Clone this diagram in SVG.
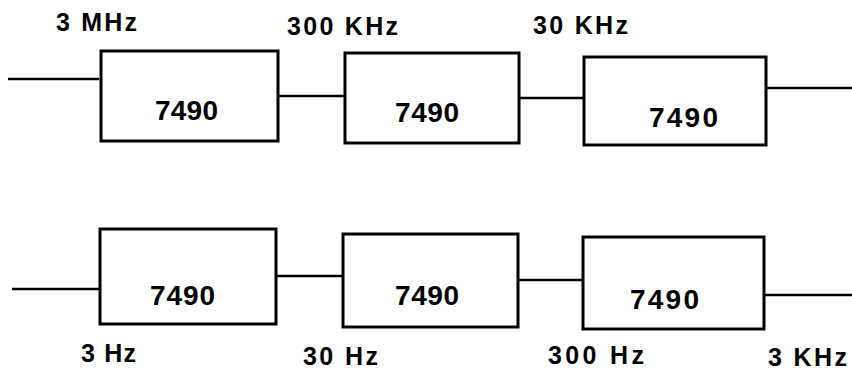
<svg xmlns="http://www.w3.org/2000/svg" width="852" height="371" viewBox="0 0 852 371">
<style>
.box{fill:none;stroke:#000;stroke-width:3}
.wire{fill:none;stroke:#000;stroke-width:2.5}
text{font-family:"Liberation Sans",Arial,sans-serif;font-weight:bold;fill:#000}
.n{font-size:28px}
.l{font-size:25px}
</style>
<rect width="852" height="371" fill="#fff"/>
<g id="connectors">
<line class="wire" x1="8" y1="79" x2="99" y2="79"/>
<line class="wire" x1="278" y1="96" x2="345" y2="96"/>
<line class="wire" x1="519" y1="98" x2="584" y2="98"/>
<line class="wire" x1="766" y1="88" x2="852" y2="88"/>
<line class="wire" x1="12" y1="289" x2="100" y2="289"/>
<line class="wire" x1="276" y1="276" x2="343" y2="276"/>
<line class="wire" x1="518" y1="280" x2="583" y2="280"/>
<line class="wire" x1="764" y1="295" x2="852" y2="295"/>
</g>
<g id="labels">
<text class="l" x="56" y="31" textLength="81" lengthAdjust="spacing">3 MHz</text>
<text class="l" x="287" y="35" textLength="111" lengthAdjust="spacing">300 KHz</text>
<text class="l" x="533" y="34" textLength="95" lengthAdjust="spacing">30 KHz</text>
<text class="l" x="81" y="362" textLength="55" lengthAdjust="spacing">3 Hz</text>
<text class="l" x="303" y="365" textLength="75" lengthAdjust="spacing">30 Hz</text>
<text class="l" x="548" y="364" textLength="96" lengthAdjust="spacing">300 Hz</text>
<text class="l" x="768" y="366" textLength="79" lengthAdjust="spacing">3 KHz</text>
</g>
<g id="n1"><rect class="box" x="101" y="51" width="177" height="90"/><text class="n" x="155" y="120" textLength="63" lengthAdjust="spacing">7490</text></g>
<g id="n2"><rect class="box" x="345" y="53" width="174" height="90"/><text class="n" x="395" y="122" textLength="64" lengthAdjust="spacing">7490</text></g>
<g id="n3"><rect class="box" x="584" y="57" width="182" height="88"/><text class="n" x="649" y="127" textLength="69" lengthAdjust="spacing">7490</text></g>
<g id="n4"><rect class="box" x="100" y="229" width="176" height="95"/><text class="n" x="150" y="305" textLength="65" lengthAdjust="spacing">7490</text></g>
<g id="n5"><rect class="box" x="343" y="234" width="175" height="93"/><text class="n" x="395" y="305" textLength="64" lengthAdjust="spacing">7490</text></g>
<g id="n6"><rect class="box" x="583" y="237" width="181" height="92"/><text class="n" x="630" y="309" textLength="69" lengthAdjust="spacing">7490</text></g>
</svg>
